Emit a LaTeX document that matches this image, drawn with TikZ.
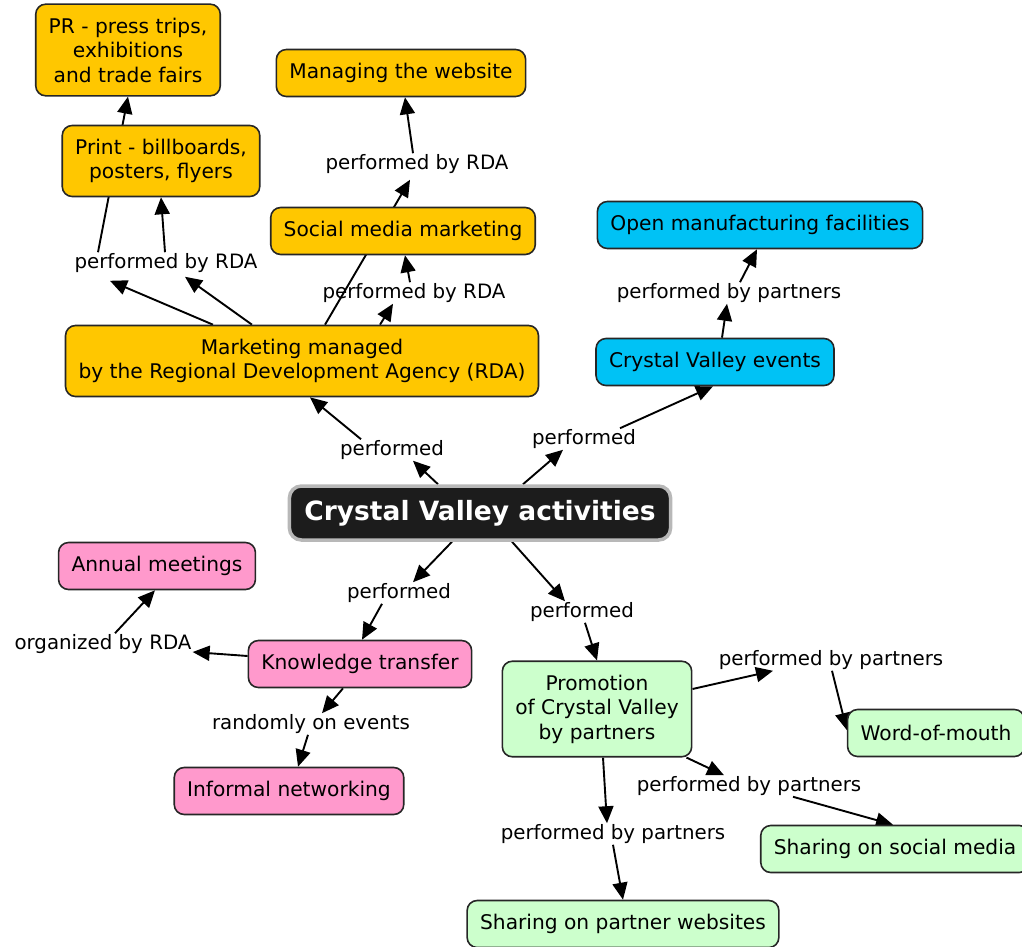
\documentclass[tikz,border=0pt]{standalone}
\usepackage{fontspec}
\setmainfont{DejaVu Sans}
\usetikzlibrary{arrows.meta,backgrounds}
\definecolor{rdaorange}{RGB}{255,199,0}
\definecolor{evblue}{RGB}{0,194,245}
\definecolor{ktpink}{RGB}{255,153,204}
\definecolor{prgreen}{RGB}{204,255,204}
\definecolor{hubblack}{RGB}{28,28,28}

\begin{document}
\begin{tikzpicture}[x=1pt,y=-1pt,>={Triangle[length=17pt,width=15pt]},
  concept/.style={draw=black!85,line width=1.6pt,rounded corners=10pt,align=center,inner xsep=13pt,inner ysep=13.5pt,minimum height=47pt,font=\fontsize{20.2}{24.5}\selectfont},
  hub/.style={draw=black!28,fill=hubblack,line width=3.5pt,rounded corners=12pt,text=white,inner xsep=15pt,minimum height=54pt,font=\fontsize{26.5}{30}\selectfont\bfseries},
  phrase/.style={inner sep=1pt,font=\fontsize{19.8}{24.5}\selectfont},
  link/.style={->,black,line width=1.9pt}]
\useasboundingbox (0,0) rectangle (1022,947);
\node[hub] (cva) at (480,513) {Crystal Valley activities};
\node[concept, fill=rdaorange] (pr) at (128,50) {PR - press trips,\\exhibitions\\and trade fairs};
\node[concept, fill=rdaorange] (web) at (401,73) {Managing the website};
\node[concept, fill=rdaorange] (print) at (161,161) {Print - billboards,\\posters, flyers};
\node[concept, fill=rdaorange] (social) at (403,231) {Social media marketing};
\node[concept, fill=rdaorange] (mkt) at (302,361) {Marketing managed\\by the Regional Development Agency (RDA)};
\node[concept, fill=evblue] (open) at (760,225) {Open manufacturing facilities};
\node[concept, fill=evblue] (events) at (715,362) {Crystal Valley events};
\node[concept, fill=ktpink] (annual) at (157,566) {Annual meetings};
\node[concept, fill=ktpink] (know) at (360,664) {Knowledge transfer};
\node[concept, fill=ktpink] (info) at (289,791) {Informal networking};
\node[concept, fill=prgreen] (promo) at (597,709) {Promotion\\of Crystal Valley\\by partners};
\node[concept, fill=prgreen] (word) at (936,733) {Word-of-mouth};
\node[concept, fill=prgreen] (share) at (895,849) {Sharing on social media};
\node[concept, fill=prgreen] (partner) at (623,924) {Sharing on partner websites};
\node[phrase] (lpPrint) at (166,263) {performed by RDA};
\node[phrase] (lpWeb) at (417,164) {performed by RDA};
\node[phrase] (lpSocial) at (414,293) {performed by RDA};
\node[phrase] (lpC) at (729,293) {performed by partners};
\node[phrase] (lpA) at (392,450) {performed};
\node[phrase] (lpB) at (584,439) {performed};
\node[phrase] (lpD) at (399,593) {performed};
\node[phrase] (lpE) at (582,612) {performed};
\node[phrase] (lpF) at (103,644) {organized by RDA};
\node[phrase] (lpG) at (311,724) {randomly on events};
\node[phrase] (lpH) at (831,660) {performed by partners};
\node[phrase] (lpI) at (749,786) {performed by partners};
\node[phrase] (lpJ) at (613,834) {performed by partners};
\begin{scope}[on background layer]
\draw[link] ([xshift=-89pt]mkt.north) -- ([xshift=-56pt,yshift=-7pt]lpPrint.south);
\draw[link] ([xshift=-50pt]mkt.north) -- ([xshift=19pt,yshift=-3pt]lpPrint.south);
\draw[link] ([xshift=-1pt]lpPrint.north) -- (print.south);
\draw[link] ([xshift=-68pt]lpPrint.north) -- (pr.south);
\draw[link] ([xshift=78pt]mkt.north) -- ([xshift=-21pt]lpSocial.south);
\draw[link] ([xshift=-4pt]lpSocial.north) -- ([xshift=2pt]social.south);
\draw[link] ([xshift=23pt]mkt.north) -- ([xshift=-7pt,yshift=-5pt]lpWeb.south);
\draw[link] ([xshift=-4pt]lpWeb.north) -- ([xshift=4pt]web.south);
\draw[link] ([xshift=-42pt]cva.north) -- ([xshift=21pt]lpA.south);
\draw[link] ([xshift=-31pt]lpA.north) -- ([xshift=8pt]mkt.south);
\draw[link] ([xshift=43pt]cva.north) -- ([xshift=-21pt]lpB.south);
\draw[link] ([xshift=36pt]lpB.north) -- ([xshift=-2pt]events.south);
\draw[link] ([xshift=7pt]events.north) -- ([xshift=-2pt]lpC.south);
\draw[link] ([xshift=11pt]lpC.north) -- ([xshift=-3pt]open.south);
\draw[link] ([xshift=-28pt]cva.south) -- ([xshift=14pt]lpD.north);
\draw[link] ([xshift=-17pt]lpD.south) -- ([xshift=2pt]know.north);
\draw[link] ([xshift=32pt]cva.south) -- ([xshift=-17pt]lpE.north);
\draw[link] ([xshift=3pt]lpE.south) -- (promo.north);
\draw[link] ([yshift=8pt]know.west) -- ([yshift=-8pt]lpF.east);
\draw[link] ([xshift=12pt]lpF.north) -- ([xshift=-2pt]annual.south);
\draw[link] ([xshift=-17pt]know.south) -- ([xshift=11pt]lpG.north);
\draw[link] ([xshift=-3pt]lpG.south) -- ([xshift=9pt]info.north);
\draw[link] ([yshift=20pt]promo.east) -- ([xshift=-58pt]lpH.south);
\draw[link] ([xshift=1pt]lpH.south) -- ([yshift=3pt]word.west);
\draw[link] ([xshift=-6pt]promo.south east) -- ([xshift=-25pt]lpI.north);
\draw[link] ([xshift=44pt]lpI.south) -- ([xshift=-2pt]share.north);
\draw[link] ([xshift=6pt]promo.south) -- ([xshift=-6pt]lpJ.north);
\draw[link] (lpJ.south) -- (partner.north);
\end{scope}
\end{tikzpicture}
\end{document}
